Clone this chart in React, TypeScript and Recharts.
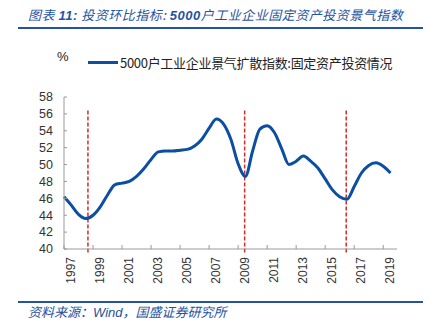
import {
  LineChart,
  Line,
  XAxis,
  YAxis,
  ReferenceLine,
  Legend,
} from "recharts";

// half-year points, x = decimal year
const years = [
  1996.5, 1997, 1997.5, 1998, 1998.5, 1999, 1999.5, 2000, 2000.5, 2001, 2001.5,
  2002, 2002.5, 2003, 2003.5, 2004, 2004.5, 2005, 2005.5, 2006, 2006.5, 2007,
  2007.5, 2008, 2008.5, 2009, 2009.5, 2010, 2010.5, 2011, 2011.5, 2012, 2012.5,
  2013, 2013.5, 2014, 2014.5, 2015, 2015.5, 2016, 2016.5, 2017, 2017.5, 2018,
  2018.5, 2019,
];

const indexValues = [
  46.2, 45.2, 44.1, 43.6, 44.0, 45.0, 46.4, 47.6, 47.8, 48.0, 48.6,
  49.5, 50.6, 51.5, 51.6, 51.6, 51.7, 51.8, 52.2, 53.0, 54.3, 55.4,
  54.8, 53.0, 50.1, 48.6, 51.6, 54.2, 54.6, 53.8, 51.9, 50.0, 50.4,
  51.0, 50.4, 49.6, 48.3, 47.0, 46.2, 45.9, 47.4, 49.0, 49.9, 50.2,
  49.8, 49.0,
];

const troughYears = [1998.15, 2008.95, 2015.95];
const xTicks = [
  1996.5, 1998.5, 2000.5, 2002.5, 2004.5, 2006.5, 2008.5, 2010.5, 2012.5,
  2014.5, 2016.5, 2018.5,
];
const yTicks = [40, 42, 44, 46, 48, 50, 52, 54, 56, 58];

const seriesName = "5000户工业企业景气扩散指数:固定资产投资情况";

const data = years.map((year, i) => ({ year, value: indexValues[i] }));

const BLUE = "#0b4ea2";
const AXIS = "#9a9a9a";

function XTick({ x, y, payload }: any) {
  return (
    <g>
      <line x1={x} y1={y} x2={x} y2={y - 4} stroke={AXIS} />
      <text
        x={x + 7}
        y={y + 8}
        transform={`rotate(-90 ${x + 7} ${y + 8})`}
        textAnchor="end"
        dy="0.35em"
        fontSize={12}
        fill="#333"
        fontFamily="Liberation Sans, Arial, sans-serif"
      >
        {payload.value + 0.5}
      </text>
    </g>
  );
}

function YTick({ x, y, payload }: any) {
  return (
    <g>
      <line x1={x} y1={y} x2={x + 3} y2={y} stroke={AXIS} />
      <text
        x={x - 11}
        y={y}
        textAnchor="end"
        dy="0.35em"
        fontSize={12.5}
        fill="#333"
        fontFamily="Liberation Sans, Arial, sans-serif"
      >
        {payload.value}
      </text>
    </g>
  );
}

function LegendBox() {
  return (
    <div style={{ display: "flex", alignItems: "center", whiteSpace: "nowrap" }}>
      <span style={{ width: 30, height: 3, background: BLUE, marginRight: 2 }} />
      <span
        style={{
          fontSize: 13,
          letterSpacing: -0.3,
          color: "#222",
          fontFamily: "Noto Sans CJK SC, sans-serif",
        }}
      >
        {seriesName}
      </span>
    </div>
  );
}

export default function App() {
  return (
    <div
      style={{
        position: "fixed",
        left: 0,
        top: 0,
        width: 435,
        height: 331,
        background: "#fff",
        fontFamily: "Noto Sans CJK SC, sans-serif",
      }}
    >
      <div
        style={{
          position: "absolute",
          left: 28,
          top: 5,
          fontSize: 13,
          letterSpacing: 0.5,
          fontStyle: "italic",
          color: "#2553a0",
          whiteSpace: "nowrap",
        }}
      >
        图表 <b style={{ fontFamily: "Liberation Sans, sans-serif" }}>11:</b> 投资环比指标:{" "}
        <b style={{ fontFamily: "Liberation Sans, sans-serif" }}>5000</b>户工业企业固定资产投资景气指数
      </div>
      <div style={{ position: "absolute", left: 18, top: 27, width: 405, height: 2, background: "#2553a0" }} />
      <div style={{ position: "absolute", left: 57, top: 49, fontSize: 13, color: "#222", fontFamily: "Liberation Sans, sans-serif" }}>%</div>
      <LineChart
        width={435}
        height={331}
        data={data}
        margin={{ top: 78, right: 38, bottom: 42, left: 0 }}
      >
        <XAxis
          dataKey="year"
          type="number"
          domain={[1996.5, 2019.45]}
          ticks={xTicks}
          interval={0}
          tickSize={0}
          tickMargin={0}
          tickLine={false}
          height={40}
          stroke={AXIS}
          tick={<XTick />}
        />
        <YAxis
          type="number"
          domain={[40, 58]}
          ticks={yTicks}
          interval={0}
          tickSize={0}
          tickMargin={0}
          tickLine={false}
          width={64}
          stroke={AXIS}
          tick={<YTick />}
        />
        <Legend
          verticalAlign="top"
          content={<LegendBox />}
          wrapperStyle={{ top: 53, left: 88, width: "auto" }}
        />
        {troughYears.map((yr) => (
          <ReferenceLine
            key={yr}
            segment={[
              { x: yr, y: 39.6 },
              { x: yr, y: 56.6 },
            ]}
            stroke="#d42a2a"
            strokeWidth={1.5}
            strokeDasharray="4 2"
            ifOverflow="visible"
          />
        ))}
        <Line
          type="monotone"
          dataKey="value"
          stroke={BLUE}
          strokeWidth={3}
          dot={false}
          isAnimationActive={false}
          name={seriesName}
        />
      </LineChart>
      <div style={{ position: "absolute", left: 18, top: 301, width: 405, height: 2, background: "#2553a0" }} />
      <div
        style={{
          position: "absolute",
          left: 28,
          top: 302,
          fontSize: 13,
          fontStyle: "italic",
          color: "#2553a0",
          whiteSpace: "nowrap",
        }}
      >
        资料来源：<span style={{ fontFamily: "Liberation Sans, sans-serif" }}>Wind</span>，国盛证券研究所
      </div>
    </div>
  );
}
